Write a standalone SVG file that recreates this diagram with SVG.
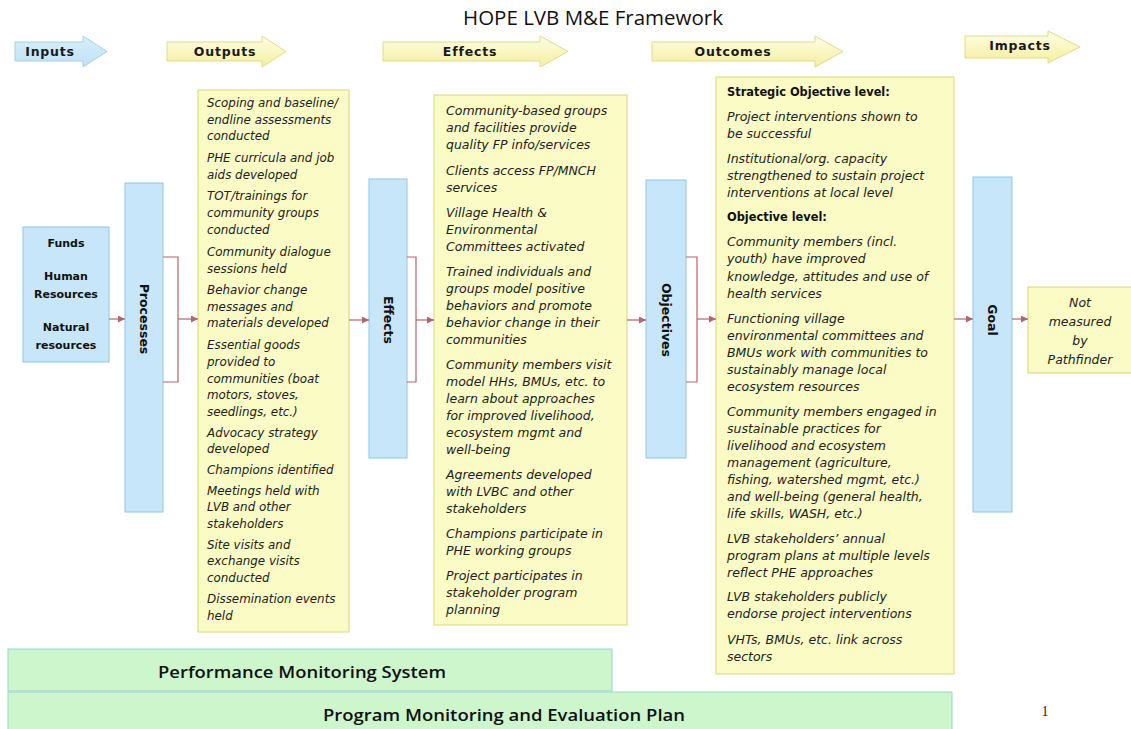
<svg xmlns="http://www.w3.org/2000/svg" width="1131" height="729" viewBox="0 0 1131 729">
<defs>
<linearGradient id="yg" x1="0" y1="0" x2="0" y2="1">
<stop offset="0" stop-color="#fefee6"/>
<stop offset="1" stop-color="#f5ef9e"/>
</linearGradient>
<linearGradient id="bg" x1="0" y1="0" x2="0" y2="1">
<stop offset="0" stop-color="#d8effb"/>
<stop offset="1" stop-color="#bfe2f6"/>
</linearGradient>
<marker id="ah" viewBox="0 0 10 10" refX="10" refY="5" markerWidth="8" markerHeight="7" markerUnits="userSpaceOnUse" orient="auto">
<path d="M0,0 L10,5 L0,10 z" fill="#b5646a"/>
</marker>
<style>
.hdr{fill:url(#yg);stroke:#e4d98a;stroke-width:1}
.hdrb{fill:url(#bg);stroke:#a6d0e8;stroke-width:1}
.hl{font-family:"DejaVu Sans",Verdana,sans-serif;font-weight:bold;font-size:12.5px;letter-spacing:0.8px;fill:#1a1a1a;text-anchor:middle}
.bar{fill:#c7e6f9;stroke:#8fc6e2;stroke-width:1}
.vl{font-family:"DejaVu Sans",Verdana,sans-serif;font-weight:bold;font-size:12.5px;fill:#111;text-anchor:middle}
.box{fill:#fbfbc5;stroke:#dcd47a;stroke-width:1}
.in{fill:#c7e6f9;stroke:#8fc6e2;stroke-width:1}
.inl{font-family:"DejaVu Sans",Verdana,sans-serif;font-weight:bold;font-size:11px;fill:#111;text-anchor:middle}
.t1{font-family:"DejaVu Sans",Verdana,sans-serif;font-style:italic;font-size:11.9px;fill:#222}
.t2{font-family:"DejaVu Sans",Verdana,sans-serif;font-style:italic;font-size:12.5px;fill:#222}
.tb{font-family:"DejaVu Sans",Verdana,sans-serif;font-weight:bold;font-size:11.4px;fill:#111}
.grn{fill:#cdf6cd;stroke:#9ad3d3;stroke-width:1}
.gl{font-family:"Open Sans",sans-serif;font-weight:600;font-size:16px;fill:#111;text-anchor:middle}
.con{fill:none;stroke:#b5646a;stroke-width:1.2}
</style>
</defs>
<rect x="0" y="0" width="1131" height="729" fill="#ffffff"/>
<text x="593" y="25" font-family="'Open Sans',sans-serif" font-size="20.5" fill="#111" text-anchor="middle">HOPE LVB M&amp;E Framework</text>

<g id="hdr-inputs">
<path class="hdrb" d="M15,42 H83 V36 L107,51.5 L83,67 V61 H15 Z"/>
<text class="hl" x="50" y="56">Inputs</text>
</g>
<g id="hdr-outputs">
<path class="hdr" d="M167,42 H262 V36 L286,51.5 L262,67 V61 H167 Z"/>
<text class="hl" x="225" y="56">Outputs</text>
</g>
<g id="hdr-effects">
<path class="hdr" d="M383,42 H540 V36 L568,51.5 L540,67 V61 H383 Z"/>
<text class="hl" x="470" y="56">Effects</text>
</g>
<g id="hdr-outcomes">
<path class="hdr" d="M652,42 H815 V36 L843,51.5 L815,67 V61 H652 Z"/>
<text class="hl" x="733" y="56">Outcomes</text>
</g>
<g id="hdr-impacts">
<path class="hdr" d="M965,36 H1048 V31 L1080,47 L1048,63 V58 H965 Z"/>
<text class="hl" x="1020" y="50">Impacts</text>
</g>

<g id="inputs">
<rect class="in" x="23" y="227" width="86" height="135"/>
<text class="inl" x="66" y="247">Funds</text>
<text class="inl" x="66" y="280">Human</text>
<text class="inl" x="66" y="298">Resources</text>
<text class="inl" x="66" y="331">Natural</text>
<text class="inl" x="66" y="349">resources</text>
</g>

<g id="processes">
<rect class="bar" x="125" y="183" width="38" height="329"/>
<text class="vl" transform="translate(139.5,319) rotate(90)" x="0" y="0">Processes</text>
</g>

<g id="outputs">
<rect class="box" x="198" y="90" width="151" height="542"/>
<g class="t1">
<text x="207" y="107">Scoping and baseline/</text>
<text x="207" y="123.5">endline assessments</text>
<text x="207" y="140">conducted</text>
<text x="207" y="162">PHE curricula and job</text>
<text x="207" y="179">aids developed</text>
<text x="207" y="200">TOT/trainings for</text>
<text x="207" y="217">community groups</text>
<text x="207" y="234">conducted</text>
<text x="207" y="256">Community dialogue</text>
<text x="207" y="273">sessions  held</text>
<text x="207" y="294">Behavior change</text>
<text x="207" y="310.5">messages and</text>
<text x="207" y="327">materials developed</text>
<text x="207" y="349">Essential goods</text>
<text x="207" y="366">provided to</text>
<text x="207" y="382.5">communities (boat</text>
<text x="207" y="399">motors, stoves,</text>
<text x="207" y="415.5">seedlings, etc.)</text>
<text x="207" y="436.5">Advocacy strategy</text>
<text x="207" y="453">developed</text>
<text x="207" y="473.5">Champions identified</text>
<text x="207" y="494.5">Meetings held with</text>
<text x="207" y="511">LVB and other</text>
<text x="207" y="527.5">stakeholders</text>
<text x="207" y="548.5">Site visits and</text>
<text x="207" y="565">exchange visits</text>
<text x="207" y="581.5">conducted</text>
<text x="207" y="603">Dissemination events</text>
<text x="207" y="620">held</text>
</g>
</g>

<g id="effects-bar">
<rect class="bar" x="369" y="179" width="38" height="279"/>
<text class="vl" transform="translate(383.5,320) rotate(90)" x="0" y="0">Effects</text>
</g>

<g id="effects">
<rect class="box" x="434" y="95" width="193" height="530"/>
<g class="t2">
<text x="446" y="114.5">Community-based groups</text>
<text x="446" y="131.5">and facilities  provide</text>
<text x="446" y="148.5">quality FP info/services</text>
<text x="446" y="174.5">Clients  access  FP/MNCH</text>
<text x="446" y="191.5">services</text>
<text x="446" y="216.5">Village Health &amp;</text>
<text x="446" y="233.5">Environmental</text>
<text x="446" y="250.5">Committees  activated</text>
<text x="446" y="275.5">Trained individuals and</text>
<text x="446" y="292.5">groups model positive</text>
<text x="446" y="309.5">behaviors and promote</text>
<text x="446" y="326.5">behavior change in their</text>
<text x="446" y="343.5">communities</text>
<text x="446" y="368.5">Community members visit</text>
<text x="446" y="385.5">model HHs, BMUs, etc. to</text>
<text x="446" y="402.5">learn about approaches</text>
<text x="446" y="419.5">for improved livelihood,</text>
<text x="446" y="436.5">ecosystem  mgmt  and</text>
<text x="446" y="453.5">well-being</text>
<text x="446" y="478.5">Agreements  developed</text>
<text x="446" y="495.5">with LVBC and other</text>
<text x="446" y="512.5">stakeholders</text>
<text x="446" y="537.5">Champions participate in</text>
<text x="446" y="554.5">PHE working groups</text>
<text x="446" y="579.5">Project  participates  in</text>
<text x="446" y="596.5">stakeholder program</text>
<text x="446" y="613.5">planning</text>
</g>
</g>

<g id="objectives">
<rect class="bar" x="646" y="180" width="40" height="278"/>
<text class="vl" transform="translate(661.5,320) rotate(90)" x="0" y="0">Objectives</text>
</g>

<g id="outcomes">
<rect class="box" x="716" y="77" width="238" height="597"/>
<text class="tb" x="727" y="96">Strategic  Objective level:</text>
<text class="tb" x="727" y="221">Objective level:</text>
<g class="t2">
<text x="727" y="120.5">Project  interventions shown to</text>
<text x="727" y="137.5">be successful</text>
<text x="727" y="162.5">Institutional/org.  capacity</text>
<text x="727" y="179.5">strengthened  to sustain project</text>
<text x="727" y="196.5">interventions  at local level</text>
<text x="727" y="245.5">Community  members  (incl.</text>
<text x="727" y="262.5">youth) have improved</text>
<text x="727" y="280.5">knowledge, attitudes and use of</text>
<text x="727" y="298">health services</text>
<text x="727" y="322.5">Functioning village</text>
<text x="727" y="340">environmental committees  and</text>
<text x="727" y="357">BMUs work with communities to</text>
<text x="727" y="374">sustainably manage local</text>
<text x="727" y="391">ecosystem  resources</text>
<text x="727" y="416">Community  members  engaged in</text>
<text x="727" y="433">sustainable practices  for</text>
<text x="727" y="450">livelihood and ecosystem</text>
<text x="727" y="467">management (agriculture,</text>
<text x="727" y="484">fishing, watershed  mgmt, etc.)</text>
<text x="727" y="501">and well-being (general health,</text>
<text x="727" y="518">life skills,  WASH, etc.)</text>
<text x="727" y="543">LVB stakeholders’  annual</text>
<text x="727" y="560">program plans at multiple  levels</text>
<text x="727" y="577">reflect  PHE approaches</text>
<text x="727" y="601">LVB stakeholders  publicly</text>
<text x="727" y="618">endorse project interventions</text>
<text x="727" y="644">VHTs,  BMUs, etc.  link across</text>
<text x="727" y="661">sectors</text>
</g>
</g>

<g id="goal">
<rect class="bar" x="973" y="177" width="39" height="335"/>
<text class="vl" transform="translate(988,320) rotate(90)" x="0" y="0">Goal</text>
</g>

<g id="not-measured">
<rect class="box" x="1028" y="287" width="108" height="86"/>
<g class="t2" text-anchor="middle">
<text x="1080" y="307">Not</text>
<text x="1080" y="326">measured</text>
<text x="1080" y="345">by</text>
<text x="1080" y="364">Pathfinder</text>
</g>
</g>

<g id="pms">
<rect class="grn" x="8" y="649" width="604" height="42"/>
<text class="gl" x="302" y="678" textLength="288" lengthAdjust="spacingAndGlyphs">Performance Monitoring System</text>
</g>
<g id="pmep">
<rect class="grn" x="8" y="692" width="944" height="42"/>
<text class="gl" x="504" y="721" textLength="362" lengthAdjust="spacingAndGlyphs">Program Monitoring and Evaluation Plan</text>
</g>
<text x="1045" y="716" font-family="'Liberation Serif',serif" font-size="14" fill="#222" text-anchor="middle">1</text>

<g id="connectors">
<line class="con" x1="109" y1="319" x2="125" y2="319" marker-end="url(#ah)"/>
<path class="con" d="M163,257 H178 V382 H163"/>
<line class="con" x1="178" y1="319" x2="198" y2="319" marker-end="url(#ah)"/>
<line class="con" x1="349" y1="320" x2="369" y2="320" marker-end="url(#ah)"/>
<path class="con" d="M407,257 H416 V382 H407"/>
<line class="con" x1="416" y1="320" x2="434" y2="320" marker-end="url(#ah)"/>
<line class="con" x1="627" y1="320" x2="646" y2="320" marker-end="url(#ah)"/>
<path class="con" d="M686,257 H697 V382 H686"/>
<line class="con" x1="697" y1="319" x2="716" y2="319" marker-end="url(#ah)"/>
<line class="con" x1="954" y1="319" x2="973" y2="319" marker-end="url(#ah)"/>
<line class="con" x1="1012" y1="319" x2="1028" y2="319" marker-end="url(#ah)"/>
</g>
</svg>
